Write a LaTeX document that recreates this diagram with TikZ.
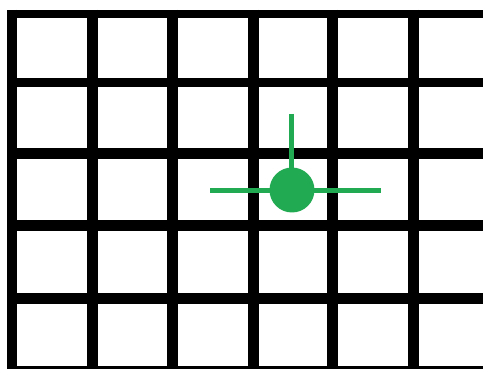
\documentclass[tikz,border=0pt]{standalone}
\definecolor{gr}{RGB}{34,170,82}
\begin{document}
\begin{tikzpicture}[x=1pt,y=-1pt,
  gridline/.style={line width=11pt,black},
  greenline/.style={line width=5pt,gr}]
\useasboundingbox[fill=white] (0,0) rectangle (483,369);
\begin{scope}
\clip (0,0) rectangle (483,369);
% vertical lines
\foreach \x in {92,172.5,253,332,413} \draw[gridline] (\x,10) -- (\x,380);
\draw[line width=10pt] (12,10) -- (12,380);
% horizontal lines
\draw[line width=8pt] (7,14) -- (490,14);
\draw[line width=9pt] (7,82.5) -- (490,82.5);
\foreach \y in {154,226,298.5,371} \draw[gridline] (7,\y) -- (490,\y);
\end{scope}
% green marker
\coordinate (c) at (292,190);
\coordinate (top) at (291,114);
\coordinate (l) at (210,191);
\coordinate (r) at (381,191);
\draw[greenline] (top) -- (291,190);
\draw[greenline] (l) -- (r);
\node[circle,fill=gr,minimum size=45pt,inner sep=0pt] (dot) at (c) {};
\end{tikzpicture}
\end{document}
